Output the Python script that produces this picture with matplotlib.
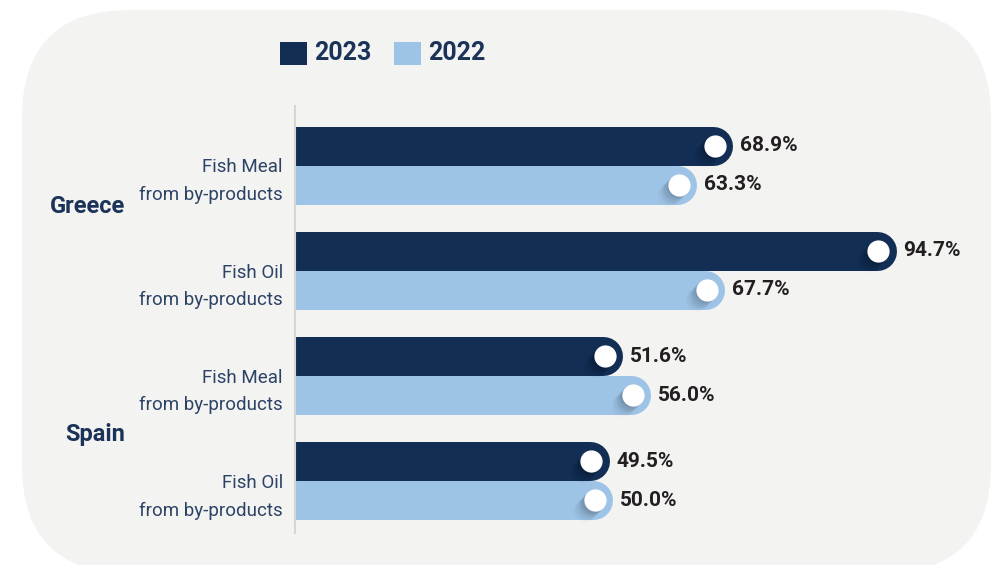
import matplotlib.pyplot as plt
import matplotlib.transforms as mtransforms
from matplotlib.patches import FancyBboxPatch, Rectangle

plt.rcParams['font.family'] = ['Roboto', 'DejaVu Sans']

# Share of fish meal / fish oil coming from by-products
countries = ["Greece", "Spain"]
country_pos = [0.39, 2.56]
products = ["Fish Meal\nfrom by-products", "Fish Oil\nfrom by-products",
            "Fish Meal\nfrom by-products", "Fish Oil\nfrom by-products"]
years = ["2023", "2022"]
vals_2023 = [68.9, 94.7, 51.6, 49.5]
vals_2022 = [63.3, 67.7, 56.0, 50.0]

dark = '#132e54'
light = '#9dc3e6'
navy_text = '#1b3358'
label_text = '#2d4366'
value_text = '#231f20'
panel = '#f3f3f2'

W, H, DPI = 992, 565, 100
fig = plt.figure(figsize=(W / DPI, H / DPI), dpi=DPI)
fig.patch.set_facecolor('white')

# rounded grey panel behind everything (inch coordinates)
bg = FancyBboxPatch((0.22, -0.08), 9.69, 5.63,
                    boxstyle="round,pad=0,rounding_size=1.08",
                    transform=fig.dpi_scale_trans, facecolor=panel,
                    edgecolor='none', zorder=-10)
fig.patches.append(bg)

# axes in pixel layout
ax_left, ax_right, ax_top, ax_bottom = 295, 990, 106, 533
ax = fig.add_axes([ax_left / W, (H - ax_bottom) / H,
                   (ax_right - ax_left) / W, (ax_bottom - ax_top) / H])
ax.set_zorder(1)
ax.set_facecolor('none')
px_per_pct = 6.35
xmax = (ax_right - ax_left) / px_per_pct
ax.set_xlim(0, xmax)
row_h = 105.3
ax.set_ylim(-0.561 + (ax_bottom - ax_top) / row_h, -0.561)
for s in ['top', 'right', 'bottom']:
    ax.spines[s].set_visible(False)
ax.spines['left'].set_color('#d6d6d6')
ax.spines['left'].set_linewidth(1.5)
ax.set_xticks([])
ax.set_yticks([])

bar_px = 39
half = bar_px / 2 / row_h
cap_data = (bar_px / 2) / px_per_pct
lw_pt = bar_px * 72 / DPI


def off(dx, dy):
    return mtransforms.offset_copy(ax.transData, fig=fig, x=dx, y=dy, units='dots')


def draw_bar(v, y, color):
    # round-capped bar: the left cap is clipped away by the axes
    ax.plot([0, v - cap_data], [y, y], color=color, lw=lw_pt,
            solid_capstyle='round', zorder=2)
    # soft long shadow behind the knob
    for k in range(1, 10):
        ax.plot([v], [y], marker='o', ms=16, mew=0, color='black',
                alpha=0.05 * (1 - k / 11), transform=off(-18 - k * 1.2, -k * 1.2),
                zorder=3)
    ax.plot([v], [y], marker='o', ms=16, mew=0, color='white',
            transform=off(-18, 0), zorder=4)
    ax.text(v, y, f"{v:.1f}%", transform=off(7, 0), ha='left', va='center',
            fontsize=15, fontweight='bold', color=value_text, zorder=5)


for i in range(len(products)):
    y23 = i - half
    y22 = i + half
    draw_bar(vals_2022[i], y22, light)
    draw_bar(vals_2023[i], y23, dark)
    ax.text(0, i, products[i], transform=off(-12, -16), ha='right', va='center',
            fontsize=13.5, color=label_text, linespacing=1.65)

for name, y in zip(countries, country_pos):
    ax.text(0, y, name, transform=off(-170, 0), ha='right', va='center',
            fontsize=17, fontweight='bold', color=navy_text)

# legend squares and labels
legend_items = [(280, dark, years[0]), (394, light, years[1])]
for x0, col, lab in legend_items:
    fig.patches.append(Rectangle((x0 / W, (H - 65) / H), 27 / W, 23 / H,
                                 transform=fig.transFigure, facecolor=col,
                                 edgecolor='none'))
    fig.text((x0 + 34) / W, (H - 53.5) / H, lab, ha='left', va='center',
             fontsize=18, fontweight='bold', color=navy_text)

fig.savefig('out.png', dpi=DPI)
